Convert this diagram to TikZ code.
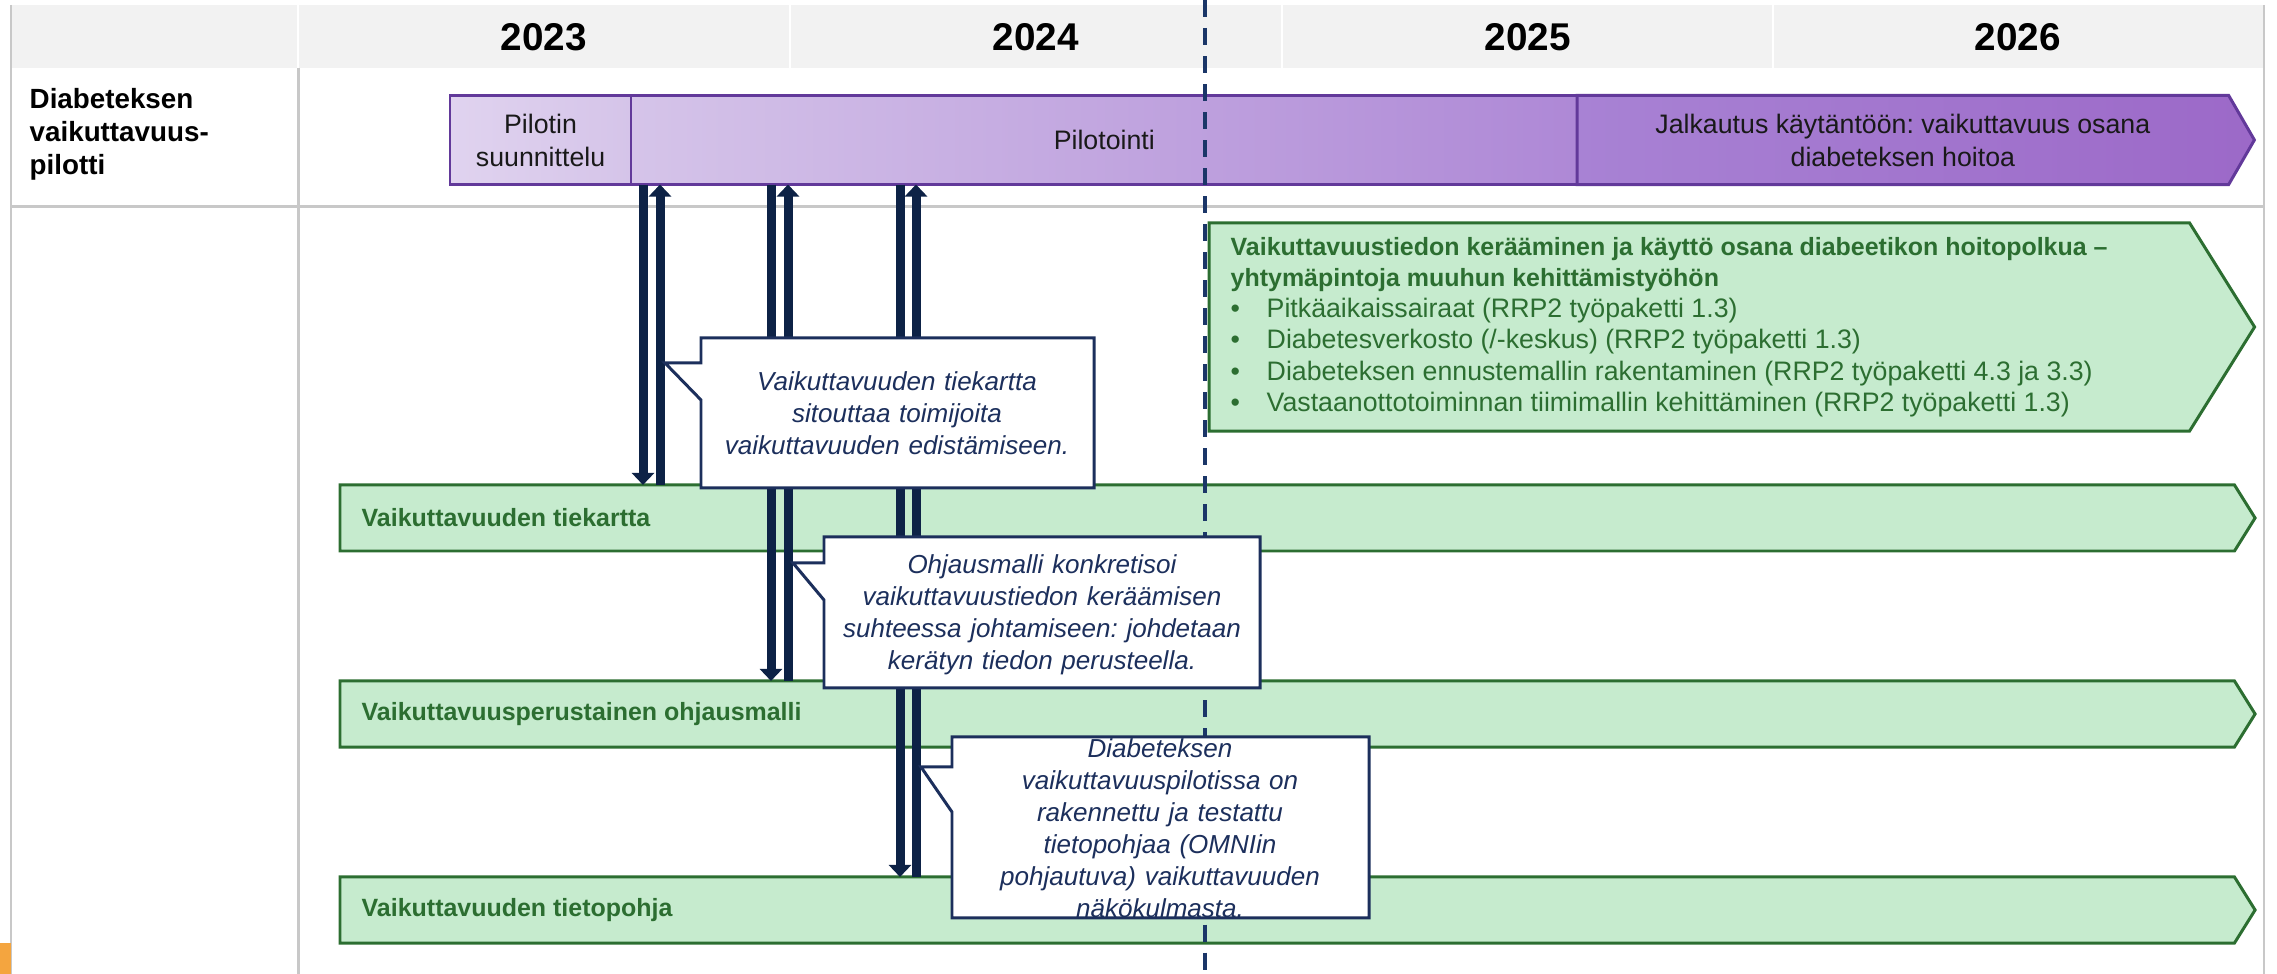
\documentclass[tikz,border=0pt]{standalone}
\usepackage{fontspec}
\setmainfont{Liberation Sans}
\usetikzlibrary{shapes.symbols,arrows.meta,positioning}

\definecolor{headgrey}{HTML}{F2F2F2}
\definecolor{rulegrey}{HTML}{C8C8C8}
\definecolor{mint}{HTML}{C6EBCE}
\definecolor{leaf}{HTML}{2C6E31}
\definecolor{plum}{HTML}{62399A}
\definecolor{lilacA}{HTML}{E0D3EF}
\definecolor{lilacB}{HTML}{D5C4E9}
\definecolor{lilacC}{HTML}{AE88D6}
\definecolor{lilacD}{HTML}{A882D4}
\definecolor{lilacE}{HTML}{9C69C8}
\definecolor{navy}{HTML}{0D2246}
\definecolor{dashnavy}{HTML}{1B3668}
\definecolor{inkblue}{HTML}{1C2F5C}
\definecolor{amber}{HTML}{F4A53F}

\newcommand\headfont{\fontsize{7.1}{8.9}\selectfont\bfseries}
\newcommand\bul{\makebox[0.36cm][l]{\textbullet}}
\frenchspacing

\begin{document}
\begin{tikzpicture}[x=0.01cm, y=-0.01cm,
    year/.style={font=\fontsize{11}{13}\selectfont\bfseries},
    rowname/.style={font=\fontsize{7.9}{9.4}\selectfont\bfseries, align=left, inner sep=0pt},
    phase/.style={draw=plum, line width=0.85pt, minimum height=0.89cm, outer sep=0pt,
        inner sep=0pt, align=center, text=black!90, font=\fontsize{7.6}{9.4}\selectfont},
    stream/.style={signal, signal to=east, signal pointer angle=116, fill=mint, draw=leaf,
        line width=0.85pt, outer sep=0pt, inner sep=0pt},
    streamtext/.style={text=leaf, font=\headfont, inner sep=0pt},
    linkarrow/.style={navy, line width=0.09cm, -{Triangle[width=0.22cm,length=0.12cm]}},
    note/.style={draw=inkblue, fill=white, line width=0.85pt, line join=miter},
    notetext/.style={text=inkblue, font=\fontsize{7.4}{9.1}\selectfont\itshape,
        align=center, inner sep=0pt},
    gridline/.style={rulegrey, line width=0.03cm}
]
    \useasboundingbox (0,0) rectangle (2277,974);

    \fill[headgrey] (11,5) rectangle (2264,68);
    \draw[white, line width=0.02cm] (298,5) -- (298,68) (790,5) -- (790,68)
        (1282,5) -- (1282,68) (1773,5) -- (1773,68);
    \draw[gridline] (11,207) -- (2264,207);
    \draw[gridline] (298,68) -- (298,974);
    \draw[rulegrey, line width=0.02cm] (11,5) -- (11,974) (2264,5) -- (2264,974);
    \fill[amber] (0,943) rectangle (11,974);

    \node[year] (y2023) at (544,37) {2023};
    \node[year] (y2024) at (1036,37) {2024};
    \node[year] (y2025) at (1528,37) {2025};
    \node[year] (y2026) at (2018,37) {2026};

    \node[rowname, anchor=west] (pilotrow) at (29,134) {Diabeteksen\\vaikuttavuus-\\pilotti};

    \node[phase, minimum width=1.81cm, left color=lilacA, right color=lilacB, anchor=west]
        (suunnittelu) at (450,140) {Pilotin\\suunnittelu};
    \node[phase, minimum width=9.46cm, left color=lilacB, right color=lilacC, anchor=west]
        (pilotointi) at (631,140) {Pilotointi};
    \node[phase, signal, signal to=east, signal pointer angle=120, minimum width=6.77cm,
        left color=lilacD, right color=lilacE, anchor=west]
        (jalkautus) at (1577,140) {Jalkautus käytäntöön: vaikuttavuus osana\\diabeteksen hoitoa};

    \node[stream, minimum width=10.45cm, minimum height=2.08cm, anchor=west] (hoitopolku) at (1209,327) {};
    \node[anchor=west, align=left, text=leaf, inner sep=0pt, font=\fontsize{7.6}{8.9}\selectfont]
        (hoitopolkutext) at (1230,327)
        {{\headfont Vaikuttavuustiedon kerääminen ja käyttö osana diabeetikon hoitopolkua –}\\
         {\headfont yhtymäpintoja muuhun kehittämistyöhön}\\
         \bul Pitkäaikaissairaat (RRP2 työpaketti 1.3)\\
         \bul Diabetesverkosto (/-keskus) (RRP2 työpaketti 1.3)\\
         \bul Diabeteksen ennustemallin rakentaminen (RRP2 työpaketti 4.3 ja 3.3)\\
         \bul Vastaanottotoiminnan tiimimallin kehittäminen (RRP2 työpaketti 1.3)};

    \node[stream, minimum width=19.14cm, minimum height=0.66cm, anchor=west] (tiekartta) at (340,518) {};
    \node[streamtext, anchor=west] (tiekarttatext) at (361,518) {Vaikuttavuuden tiekartta};
    \node[stream, minimum width=19.14cm, minimum height=0.66cm, anchor=west] (ohjausmalli) at (340,714) {};
    \node[streamtext, anchor=west] (ohjausmallitext) at (361,714) {Vaikuttavuusperustainen ohjausmalli};
    \node[stream, minimum width=19.14cm, minimum height=0.66cm, anchor=west] (tietopohja) at (340,910) {};
    \node[streamtext, anchor=west] (tietopohjatext) at (361,910) {Vaikuttavuuden tietopohja};

    \coordinate (d1) at (643,0);
    \coordinate (u1) at (660,0);
    \coordinate (d2) at (771,0);
    \coordinate (u2) at (788,0);
    \coordinate (d3) at (900,0);
    \coordinate (u3) at (916,0);

    \draw[linkarrow] (pilotointi.south -| d1) -- (tiekartta.north -| d1);
    \draw[linkarrow] (tiekartta.north -| u1) -- (pilotointi.south -| u1);
    \draw[linkarrow] (pilotointi.south -| d2) -- (ohjausmalli.north -| d2);
    \draw[linkarrow] (ohjausmalli.north -| u2) -- (pilotointi.south -| u2);
    \draw[linkarrow] (pilotointi.south -| d3) -- (tietopohja.north -| d3);
    \draw[linkarrow] (tietopohja.north -| u3) -- (pilotointi.south -| u3);

    \coordinate (nowtop) at (1205,0);
    \coordinate (nowbottom) at (1205,974);
    \draw[dashnavy, line width=0.04cm, dash pattern=on 0.17cm off 0.11cm] (nowtop) -- (nowbottom);

    \draw[note] (701,338) -- (1094,338) -- (1094,488) -- (701,488) -- (701,400) -- (665,363) -- (701,363) -- cycle;
    \node[notetext, text width=3.8cm] (note1) at (897,413)
        {Vaikuttavuuden tiekartta\\sitouttaa toimijoita\\vaikuttavuuden edistämiseen.};

    \draw[note] (824,537) -- (1260,537) -- (1260,688) -- (824,688) -- (824,600) -- (793,563) -- (824,563) -- cycle;
    \node[notetext, text width=4.2cm] (note2) at (1042,615)
        {Ohjausmalli konkretisoi\\vaikuttavuustiedon keräämisen\\suhteessa johtamiseen: johdetaan\\kerätyn tiedon perusteella.};

    \draw[note] (952,737) -- (1369,737) -- (1369,918) -- (952,918) -- (952,812) -- (921,767) -- (952,767) -- cycle;
    \node[notetext, text width=4.0cm] (note3) at (1160,828)
        {Diabeteksen\\vaikuttavuuspilotissa on\\rakennettu ja testattu\\tietopohjaa (OMNIin\\pohjautuva) vaikuttavuuden\\näkökulmasta.};
\end{tikzpicture}
\end{document}
